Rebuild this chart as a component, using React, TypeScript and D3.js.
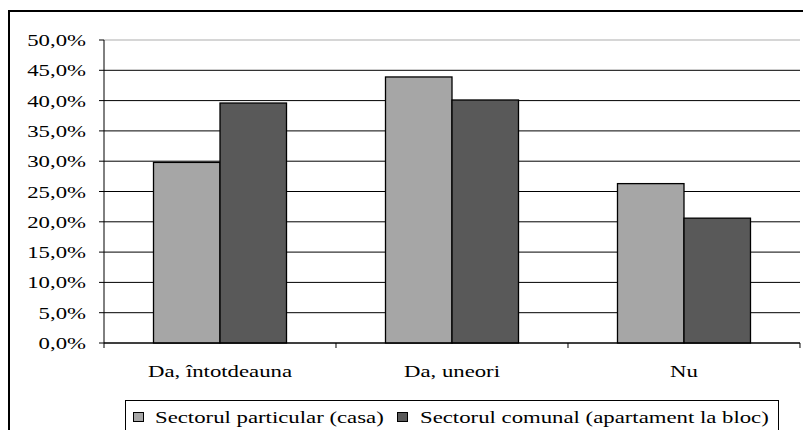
import React from "react";
import * as d3 from "d3";

const categories = ["Da, întotdeauna", "Da, uneori", "Nu"];
const seriesNames = ["Sectorul particular (casa)", "Sectorul comunal (apartament la bloc)"];
const particular = [0.298, 0.439, 0.263];
const comunal = [0.396, 0.401, 0.206];
const seriesColors = ["#A6A6A6", "#595959"];
const yTicks = [0, 0.05, 0.1, 0.15, 0.2, 0.25, 0.3, 0.35, 0.4, 0.45, 0.5];

const W = 803;
const H = 430;
const left = 104;
const right = 800;
const top = 40;
const bottom = 343;
const SX = 1.34;
const FONT = "'Liberation Serif', 'Times New Roman', serif";

export default function App() {
  const y = d3.scaleLinear().domain([0, 0.5]).range([bottom, top]);
  const x0 = d3
    .scaleBand<string>()
    .domain(categories)
    .range([left, right])
    .paddingInner(0.4267)
    .paddingOuter(0.2134);
  const x1 = d3.scaleBand<number>().domain([0, 1]).range([0, x0.bandwidth()]);
  const series = [particular, comunal];
  const fmt = (v: number) => (v * 100).toFixed(1).replace(".", ",") + "%";
  const step = x0.step();

  const txt = (x: number, yy: number, s: string, anchor: string, key?: string) => (
    <text
      key={key}
      transform={`translate(${x},${yy}) scale(${SX},1)`}
      textAnchor={anchor}
      style={{ fontFamily: FONT, fontSize: 17 }}
      fill="#000"
    >
      {s}
    </text>
  );

  return (
    <svg
      width={W}
      height={H}
      style={{ position: "absolute", left: 0, top: 0, background: "#fff" }}
    >
      <rect x={0} y={0} width={W} height={H} fill="#fff" />
      {/* outer frame */}
      <path d={`M9,${H + 5} V11 H${W + 5}`} fill="none" stroke="#000" strokeWidth={2} />
      {/* gridlines */}
      {yTicks.map((t) => (
        <line
          key={"g" + t}
          x1={left}
          x2={right}
          y1={y(t)}
          y2={y(t)}
          stroke={t === 0.5 ? "#c8c8c8" : "#000"}
          strokeWidth={t === 0.5 ? 1.5 : 1}
        />
      ))}
      {/* y axis */}
      <line x1={left} x2={left} y1={top} y2={bottom} stroke="#000" strokeWidth={1} />
      {yTicks.map((t) => (
        <line key={"t" + t} x1={left - 5} x2={left} y1={y(t)} y2={y(t)} stroke="#000" strokeWidth={1} />
      ))}
      {yTicks.map((t) => txt(86, y(t) + 6, fmt(t), "end", "l" + t))}
      {/* bars */}
      {categories.map((c, i) =>
        series.map((s, j) => (
          <rect
            key={c + j}
            x={(x0(c) as number) + (x1(j) as number)}
            y={y(s[i])}
            width={x1.bandwidth()}
            height={bottom - y(s[i])}
            fill={seriesColors[j]}
            stroke="#000"
            strokeWidth={1.3}
          />
        ))
      )}
      {/* x axis */}
      <line x1={left} x2={right} y1={bottom} y2={bottom} stroke="#000" strokeWidth={1} />
      {[0, 1, 2, 3].map((k) => (
        <line key={"xt" + k} x1={left + k * step} x2={left + k * step} y1={bottom} y2={bottom + 5} stroke="#000" strokeWidth={1} />
      ))}
      {categories.map((c) => txt((x0(c) as number) + x0.bandwidth() / 2, 376.5, c, "middle", "c" + c))}
      {/* legend */}
      <rect x={125.5} y={400.5} width={653} height={40} fill="#fff" stroke="#000" strokeWidth={1} />
      <rect x={133.5} y={412.5} width={10} height={9} fill={seriesColors[0]} stroke="#000" strokeWidth={1} />
      {txt(155, 422.5, seriesNames[0], "start", "s0")}
      <rect x={397.5} y={412.5} width={10} height={9} fill={seriesColors[1]} stroke="#000" strokeWidth={1} />
      {txt(420, 422.5, seriesNames[1], "start", "s1")}
    </svg>
  );
}
